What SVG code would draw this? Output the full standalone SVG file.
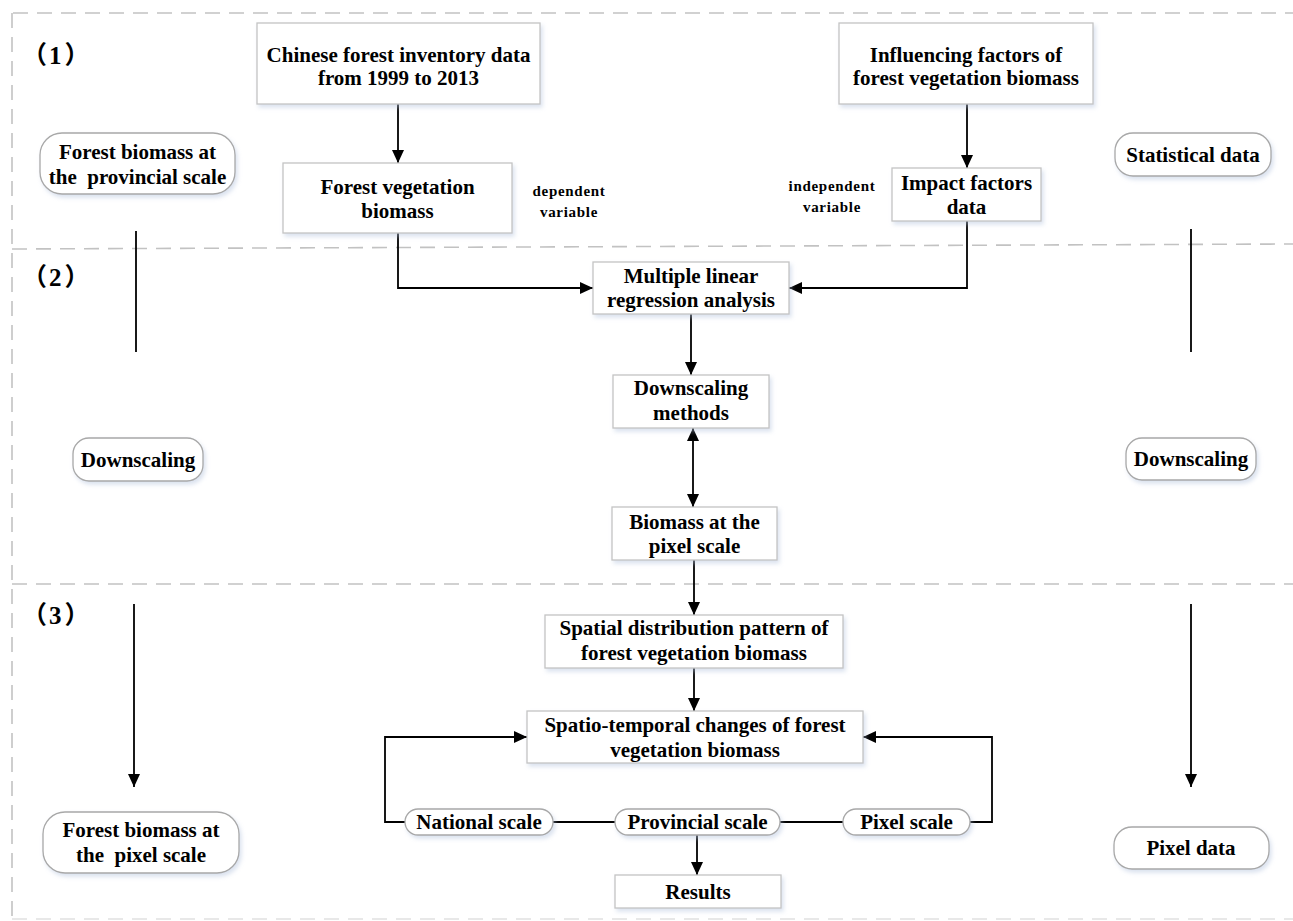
<svg xmlns="http://www.w3.org/2000/svg" width="1293" height="921" viewBox="0 0 1293 921">
<style>
text{font-family:"Liberation Serif","Times New Roman","Noto Sans CJK SC",serif;font-weight:bold;fill:#000;text-anchor:middle}
.t{font-size:21px}
.s{font-size:15px;letter-spacing:0.7px}
.lab{font-size:25px;text-anchor:start}
.cjk{font-family:"Noto Sans CJK SC","Noto Sans CJK JP",sans-serif;font-weight:bold}
.box{fill:#fff;stroke:#c4c4c4;stroke-width:1.3;filter:url(#sh)}
.pill{fill:#fff;stroke:#a8a8a8;stroke-width:1.3;filter:url(#sh)}
.frame{stroke:#c2c2c2;stroke-width:1.6;stroke-dasharray:15 9;fill:none}
.c{stroke:#000;stroke-width:1.8;fill:none}
.a{marker-end:url(#ah)}
.ab{marker-end:url(#ah);marker-start:url(#ahs)}
</style>
<defs>
<filter id="sh" x="-10%" y="-20%" width="120%" height="150%">
<feDropShadow dx="2" dy="3" stdDeviation="2" flood-color="#aebfdc" flood-opacity="0.45"/>
</filter>
<marker id="ah" markerUnits="userSpaceOnUse" markerWidth="13" markerHeight="13" refX="13" refY="6.5" orient="auto">
<path d="M0,0.5 L13,6.5 L0,12.5 z" fill="#000"/>
</marker>
<marker id="ahs" markerUnits="userSpaceOnUse" markerWidth="13" markerHeight="13" refX="0" refY="6.5" orient="auto">
<path d="M13,0.5 L0,6.5 L13,12.5 z" fill="#000"/>
</marker>
</defs>
<rect width="1293" height="921" fill="#fff"/>
<g id="frame">
<line class="frame" x1="13" y1="13" x2="1293" y2="13"/>
<line class="frame" x1="12" y1="13" x2="12" y2="921"/>
<line class="frame" x1="12" y1="249" x2="1293" y2="244"/>
<line class="frame" x1="12" y1="584" x2="1293" y2="584"/>
<line class="frame" x1="12" y1="919" x2="1293" y2="919" stroke-opacity="0.5"/>
</g>
<g id="section-labels">
<text class="lab" x="22" y="64"><tspan class="cjk">（</tspan><tspan dx="2">1</tspan><tspan class="cjk" dx="3">）</tspan></text>
<text class="lab" x="22" y="286"><tspan class="cjk">（</tspan><tspan dx="2">2</tspan><tspan class="cjk" dx="3">）</tspan></text>
<text class="lab" x="22" y="624"><tspan class="cjk">（</tspan><tspan dx="2">3</tspan><tspan class="cjk" dx="3">）</tspan></text>
</g>
<g id="connectors">
<line class="c a" x1="398" y1="104" x2="398" y2="163"/>
<line class="c a" x1="967" y1="104" x2="967" y2="168"/>
<path class="c a" d="M398,233 V288 H593"/>
<path class="c a" d="M967,221 V288 H789"/>
<line class="c a" x1="691" y1="314" x2="691" y2="375"/>
<line class="c ab" x1="693" y1="428" x2="693" y2="507"/>
<line class="c a" x1="694" y1="560" x2="694" y2="615"/>
<line class="c a" x1="694" y1="668" x2="694" y2="711"/>
<path class="c a" d="M405,822 H385 V737 H527"/>
<path class="c a" d="M970,822 H992 V737 H863"/>
<line class="c" x1="553" y1="822" x2="615" y2="822"/>
<line class="c" x1="780" y1="822" x2="843" y2="822"/>
<line class="c a" x1="697" y1="835" x2="697" y2="875"/>
<line class="c" x1="136" y1="231" x2="136" y2="352"/>
<line class="c" x1="1191" y1="229" x2="1191" y2="352"/>
<line class="c a" x1="134" y1="604" x2="134" y2="787"/>
<line class="c a" x1="1191" y1="604" x2="1191" y2="787"/>
</g>
<g id="n-inventory">
<rect class="box" x="257" y="23" width="283" height="81"/>
<text class="t" x="398.5" y="62">Chinese forest inventory data</text>
<text class="t" x="398.5" y="85">from 1999 to 2013</text>
</g>
<g id="n-influencing">
<rect class="box" x="839" y="23" width="254" height="81"/>
<text class="t" x="966" y="62">Influencing factors of</text>
<text class="t" x="966" y="85">forest vegetation biomass</text>
</g>
<g id="n-fvb">
<rect class="box" x="283" y="163" width="229" height="70"/>
<text class="t" x="397.5" y="194">Forest vegetation</text>
<text class="t" x="397.5" y="218">biomass</text>
</g>
<g id="n-impact">
<rect class="box" x="892" y="168" width="149" height="53"/>
<text class="t" x="966.5" y="190">Impact factors</text>
<text class="t" x="966.5" y="214">data</text>
</g>
<g id="lbl-dependent">
<text class="s" x="569" y="196">dependent</text>
<text class="s" x="569" y="217">variable</text>
</g>
<g id="lbl-independent">
<text class="s" x="832" y="191">independent</text>
<text class="s" x="832" y="212">variable</text>
</g>
<g id="n-prov-pill">
<rect class="pill" x="40" y="133" width="195" height="61" rx="22"/>
<text class="t" x="137.5" y="159">Forest biomass at</text>
<text class="t" x="137.5" y="184" xml:space="preserve">the  provincial scale</text>
</g>
<g id="n-stat-pill">
<rect class="pill" x="1115" y="133" width="156" height="43" rx="18"/>
<text class="t" x="1193" y="162">Statistical data</text>
</g>
<g id="n-mlr">
<rect class="box" x="593" y="262" width="196" height="52"/>
<text class="t" x="691" y="283">Multiple linear</text>
<text class="t" x="691" y="307">regression analysis</text>
</g>
<g id="n-dsm">
<rect class="box" x="613" y="375" width="156" height="53"/>
<text class="t" x="691" y="395">Downscaling</text>
<text class="t" x="691" y="420">methods</text>
</g>
<g id="n-bpix">
<rect class="box" x="612" y="507" width="165" height="53"/>
<text class="t" x="694.5" y="529">Biomass at the</text>
<text class="t" x="694.5" y="553">pixel scale</text>
</g>
<g id="n-ds-left">
<rect class="pill" x="73" y="438" width="130" height="43" rx="16"/>
<text class="t" x="138" y="467">Downscaling</text>
</g>
<g id="n-ds-right">
<rect class="pill" x="1126" y="438" width="130" height="42" rx="16"/>
<text class="t" x="1191" y="466">Downscaling</text>
</g>
<g id="n-spatial">
<rect class="box" x="545" y="615" width="298" height="53"/>
<text class="t" x="694" y="635">Spatial distribution pattern of</text>
<text class="t" x="694" y="660">forest vegetation biomass</text>
</g>
<g id="n-st">
<rect class="box" x="527" y="711" width="336" height="52"/>
<text class="t" x="695" y="732">Spatio-temporal changes of forest</text>
<text class="t" x="695" y="757">vegetation biomass</text>
</g>
<g id="n-national">
<rect class="pill" x="405" y="809" width="148" height="26" rx="13"/>
<text class="t" x="479" y="829">National scale</text>
</g>
<g id="n-provincial">
<rect class="pill" x="615" y="809" width="165" height="26" rx="13"/>
<text class="t" x="697.5" y="829">Provincial scale</text>
</g>
<g id="n-pixel">
<rect class="pill" x="843" y="809" width="127" height="26" rx="13"/>
<text class="t" x="906.5" y="829">Pixel scale</text>
</g>
<g id="n-results">
<rect class="box" x="615" y="875" width="166" height="33"/>
<text class="t" x="698" y="899">Results</text>
</g>
<g id="n-pix-pill">
<rect class="pill" x="43" y="812" width="196" height="61" rx="22"/>
<text class="t" x="141" y="837">Forest biomass at</text>
<text class="t" x="141" y="862" xml:space="preserve">the  pixel scale</text>
</g>
<g id="n-pixeldata">
<rect class="pill" x="1114" y="827" width="155" height="42" rx="18"/>
<text class="t" x="1191" y="855">Pixel data</text>
</g>
</svg>
